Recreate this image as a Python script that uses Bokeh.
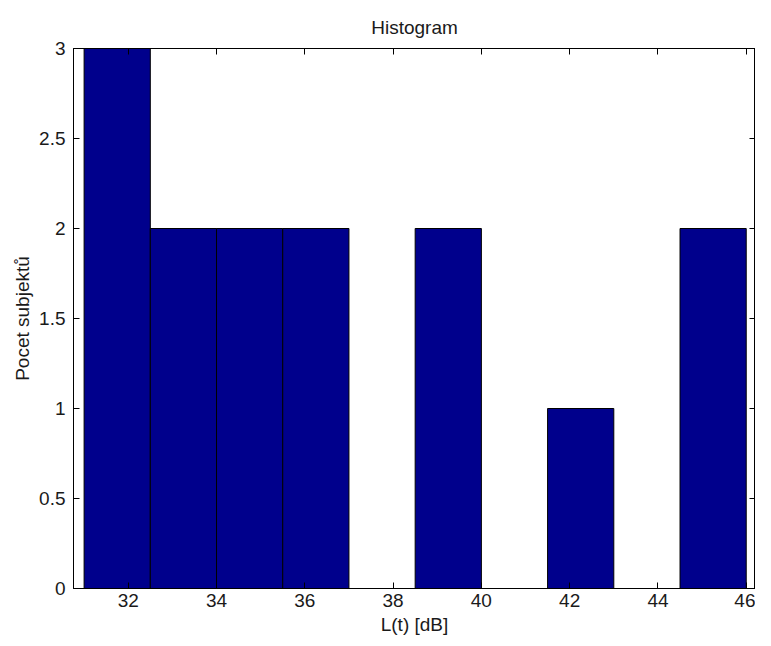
from bokeh.plotting import figure
from bokeh.models import Range1d, FixedTicker, LinearAxis
from bokeh.embed import file_html
from bokeh.resources import INLINE

bin_edges = [31.0, 32.5, 34.0, 35.5, 37.0, 38.5, 40.0, 41.5, 43.0, 44.5, 46.0]
counts = [3, 2, 2, 2, 0, 2, 0, 1, 0, 2]
x_ticks = [32, 34, 36, 38, 40, 42, 44, 46]
y_ticks = [0, 0.5, 1, 1.5, 2, 2.5, 3]
y_tick_labels = ["0", "0.5", "1", "1.5", "2", "2.5", "3"]

FONT = "Liberation Sans"
FS = "19px"
TXT = "#1a1a1a"

p = figure(width=755, height=642, output_backend="svg", toolbar_location=None,
           x_range=Range1d(30.76, 46.21), y_range=Range1d(0, 3),
           min_border_left=73, min_border_right=0, min_border_top=48, min_border_bottom=54,
           title="Histogram")
p.title.align = "center"
p.title.vertical_align = "top"
p.title.text_line_height = 1.0
p.title.text_font = FONT
p.title.text_font_size = FS
p.title.text_font_style = "normal"
p.title.text_color = TXT
p.title.standoff = 18

p.grid.visible = False
p.outline_line_color = "black"
p.outline_line_width = 1
p.background_fill_color = "white"
p.border_fill_color = "white"

p.quad(left=bin_edges[:-1], right=bin_edges[1:], bottom=[0] * len(counts), top=counts,
       fill_color="#00008C", line_color="black", line_width=1)

def style(ax, labels=True):
    ax.major_tick_in = 6
    ax.major_tick_out = 0
    ax.minor_tick_line_color = None
    ax.axis_line_color = "black"
    ax.major_tick_line_color = "black"
    ax.major_label_text_font = FONT
    ax.major_label_text_font_size = FS
    ax.major_label_text_color = TXT
    ax.axis_label_text_font = FONT
    ax.axis_label_text_font_size = FS
    ax.axis_label_text_font_style = "normal"
    ax.axis_label_text_color = TXT
    if not labels:
        ax.major_label_text_font_size = "1px"
        ax.major_label_text_color = None
        ax.major_label_standoff = 0
        ax.axis_label_standoff = 0

xa = p.xaxis[0]
xa.ticker = FixedTicker(ticks=x_ticks)
xa.axis_label = "L(t) [dB]"
xa.axis_label_standoff = 4
xa.major_label_standoff = 5
style(xa)

ya = p.yaxis[0]
ya.ticker = FixedTicker(ticks=y_ticks)
ya.major_label_overrides = {t: l for t, l in zip(y_ticks, y_tick_labels)}
ya.axis_label = "Pocet subjektů"
ya.axis_label_standoff = 3
ya.major_label_standoff = 8
style(ya)

top_ax = LinearAxis(ticker=FixedTicker(ticks=x_ticks))
style(top_ax, labels=False)
p.add_layout(top_ax, "above")
right_ax = LinearAxis(ticker=FixedTicker(ticks=y_ticks))
style(right_ax, labels=False)
p.add_layout(right_ax, "right")

open("out.html", "w").write(file_html(p, INLINE))
